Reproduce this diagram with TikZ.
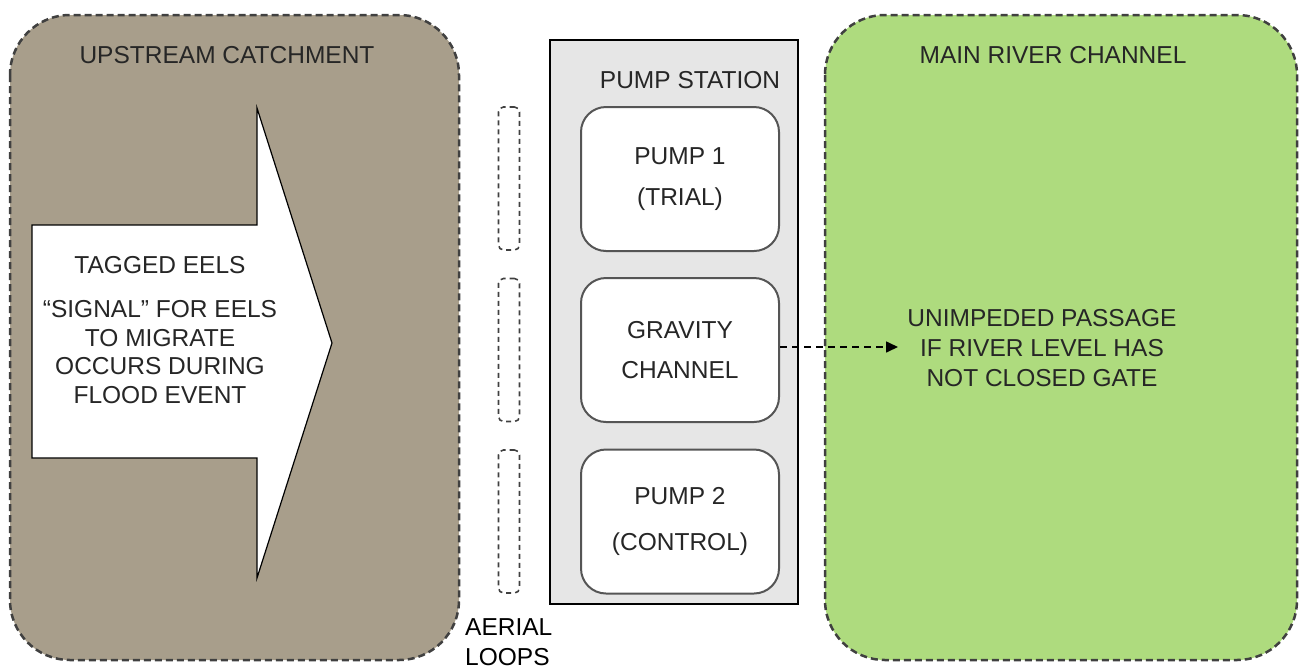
\documentclass[tikz,border=0pt]{standalone}
\usepackage{fontspec}
\setmainfont{Liberation Sans}
\usetikzlibrary{arrows.meta}
\definecolor{catch}{RGB}{168,158,139}
\definecolor{river}{RGB}{174,219,126}
\definecolor{station}{RGB}{230,230,230}
\definecolor{edge}{RGB}{64,64,64}
\definecolor{pumpedge}{RGB}{85,85,85}
\tikzset{
  areabox/.style={draw=edge, line width=2.5pt, dash pattern=on 7pt off 4pt, rounded corners=60pt},
  pumpbox/.style={draw=pumpedge, line width=2pt, fill=white, rounded corners=25pt, minimum width=198pt, minimum height=144pt, align=center, inner sep=0pt, font=\fontsize{24.5}{28.5}\selectfont, text=black!85},
  loopbox/.style={draw=edge, line width=1.6pt, dash pattern=on 5pt off 4pt, rounded corners=5pt, minimum width=21pt, minimum height=143pt, inner sep=0pt},
  lbl/.style={font=\fontsize{24.5}{28.5}\selectfont, text=black!85, inner sep=0pt, align=center},
  conn/.style={line width=1.6pt, dash pattern=on 7pt off 5pt, -{Triangle[length=12pt,width=11pt]}}
}
\begin{document}
\begin{tikzpicture}[x=1pt,y=-1pt]
\useasboundingbox (0,0) rectangle (1301,670);
% areas
\draw[areabox, fill=catch] (10,15) rectangle (459,660);
\draw[areabox, fill=river] (825,15) rectangle (1297,660);
\node[lbl] (uptitle) at (227,55) {UPSTREAM CATCHMENT};
\node[lbl] (rivtitle) at (1053,55) {MAIN RIVER CHANNEL};
% big arrow
\draw[line width=1.2pt, fill=white] (32,225) -- (257,225) -- (257,108) -- (332,343) -- (257,578) -- (257,458) -- (32,458) -- cycle;
\node[lbl] (eels) at (160,330) {TAGGED EELS\\[16pt]“SIGNAL” FOR EELS\\TO MIGRATE\\OCCURS DURING\\FLOOD EVENT};
% aerial loops
\node[loopbox] (loop1) at (509,178.5) {};
\node[loopbox] (loop2) at (509,350) {};
\node[loopbox] (loop3) at (509,521.5) {};
\node[lbl, font=\fontsize{24.5}{30}\selectfont, text=black, align=left, anchor=west] (aerial) at (465,642) {AERIAL\\LOOPS};
% pump station
\draw[line width=1.2pt, fill=station] (550,40) rectangle (798,604);
\node[lbl] (station) at (690,80) {PUMP STATION};
\node[pumpbox] (pump1) at (680,179) {PUMP 1\\[13pt](TRIAL)};
\node[pumpbox] (grav) at (680,350) {GRAVITY\\[11pt]CHANNEL};
\node[pumpbox] (pump2) at (680,521.5) {PUMP 2\\[18pt](CONTROL)};
% right text
\coordinate (passin) at (898,347);
\node[lbl, font=\fontsize{24.5}{30}\selectfont] (pass) at (1042,348) {UNIMPEDED PASSAGE\\IF RIVER LEVEL HAS\\NOT CLOSED GATE};
\draw[conn] ([yshift=3pt]grav.east) -- (passin);
\end{tikzpicture}
\end{document}
